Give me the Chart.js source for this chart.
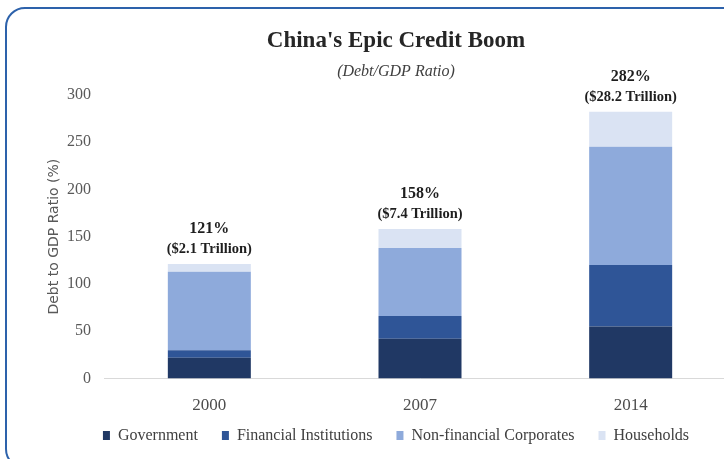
<!DOCTYPE html>
<html>
<head>
<meta charset="utf-8">
<title>China's Epic Credit Boom</title>
<script src="https://cdn.jsdelivr.net/npm/chart.js@4.4.1/dist/chart.umd.min.js"></script>
<style>
  html, body { margin: 0; padding: 0; background: #fff; overflow: hidden; width: 724px; height: 459px; }
  #frame {
    position: absolute; left: 5px; top: 7px; width: 742px; height: 462px;
    border: 2.5px solid #2d62ab; border-radius: 20px; box-sizing: border-box;
  }
  #wrap { position: absolute; left: 0; top: 0; width: 744px; height: 459px; }
</style>
</head>
<body>
<div id="frame"></div>
<div id="wrap"><canvas id="c" width="744" height="459"></canvas></div>
<script>
// Debt by sector, % of GDP
const years = ['2000', '2007', '2014'];
const government = [22, 42, 55];
const financialInstitutions = [8, 24, 65];
const nonFinancialCorporates = [83, 72, 125];
const households = [8, 20, 37];
// Total debt in US$ trillions
const debtTrillions = ['2.1', '7.4', '28.2'];
const yTicks = [0, 50, 100, 150, 200, 250, 300];

const serif = '"Liberation Serif", "DejaVu Serif", serif';

const totals = years.map((_, i) =>
  government[i] + financialInstitutions[i] + nonFinancialCorporates[i] + households[i]);

// Two-line total annotation above each stacked column
const totalLabels = {
  id: 'totalLabels',
  afterDatasetsDraw(chart) {
    const { ctx, scales: { x, y } } = chart;
    ctx.save();
    ctx.textAlign = 'center';
    ctx.textBaseline = 'alphabetic';
    ctx.fillStyle = '#1e1e1e';
    years.forEach((yr, i) => {
      const px = x.getPixelForValue(i);
      const py = y.getPixelForValue(totals[i]);
      ctx.font = 'bold 16px ' + serif;
      ctx.fillText(totals[i] + '%', px, py - 31);
      ctx.font = 'bold 14.5px ' + serif;
      ctx.fillText('($' + debtTrillions[i] + ' Trillion)', px, py - 11);
    });
    ctx.restore();
  }
};

// Keep the wide horizontal gaps between legend items but trim the space above them
const LEGEND_TRIM = 13;
const compactLegend = {
  id: 'compactLegend',
  afterInit(chart) {
    const lg = chart.legend;
    if (!lg) return;
    const fit = lg.fit;
    const draw = lg.draw;
    lg.fit = function () { fit.call(this); this.height -= LEGEND_TRIM; };
    lg.draw = function (area) {
      this.ctx.save();
      this.ctx.translate(0, -LEGEND_TRIM);
      this.bottom += LEGEND_TRIM;
      this.height += LEGEND_TRIM;
      draw.call(this, area);
      this.bottom -= LEGEND_TRIM;
      this.height -= LEGEND_TRIM;
      this.ctx.restore();
    };
  }
};

const barOpts = { categoryPercentage: 1, barPercentage: 0.394, borderWidth: 0 };

new Chart(document.getElementById('c'), {
  type: 'bar',
  data: {
    labels: years,
    datasets: [
      { label: 'Government', data: government, backgroundColor: '#203864', ...barOpts },
      { label: 'Financial Institutions', data: financialInstitutions, backgroundColor: '#2f5597', ...barOpts },
      { label: 'Non-financial Corporates', data: nonFinancialCorporates, backgroundColor: '#8eaadb', ...barOpts },
      { label: 'Households', data: households, backgroundColor: '#dae3f3', ...barOpts }
    ]
  },
  options: {
    responsive: false,
    animation: false,
    layout: { padding: { left: 56, right: 8, top: 0, bottom: 5.5 } },
    plugins: {
      title: {
        display: true,
        text: "China's Epic Credit Boom",
        color: '#262626',
        font: { family: serif, size: 23, weight: 'bold', lineHeight: 1.2 },
        padding: { top: 27, bottom: 8 }
      },
      subtitle: {
        display: true,
        text: '(Debt/GDP Ratio)',
        color: '#404040',
        font: { family: serif, size: 16, style: 'italic', lineHeight: 1.2 },
        padding: { top: 0, bottom: 13 }
      },
      legend: {
        position: 'bottom',
        labels: {
          boxWidth: 7,
          boxHeight: 9,
          padding: 24,
          color: '#404040',
          font: { family: serif, size: 16 }
        }
      },
      tooltip: { enabled: false }
    },
    scales: {
      x: {
        stacked: true,
        afterFit(scale) { scale.height = 38; },
        grid: { display: true, drawOnChartArea: false, drawTicks: false, color: 'rgba(0,0,0,0)' },
        border: { display: true, color: '#d9d9d9', width: 1 },
        ticks: { color: '#4d4d4d', padding: 17, font: { family: serif, size: 17 } }
      },
      y: {
        stacked: true,
        min: 0,
        max: 300,
        afterBuildTicks(scale) { scale.ticks = yTicks.map(v => ({ value: v })); },
        afterFit(scale) { scale.width = 48; },
        grid: { display: false, drawTicks: false },
        border: { display: false },
        ticks: { color: '#595959', padding: 13, font: { family: serif, size: 16 } },
        title: {
          display: true,
          text: 'Debt to GDP Ratio (%)',
          color: '#595959',
          font: { family: '"DejaVu Sans", sans-serif', size: 14 },
          padding: { top: -10, bottom: 0 }
        }
      }
    }
  },
  plugins: [totalLabels, compactLegend]
});
</script>
</body>
</html>
